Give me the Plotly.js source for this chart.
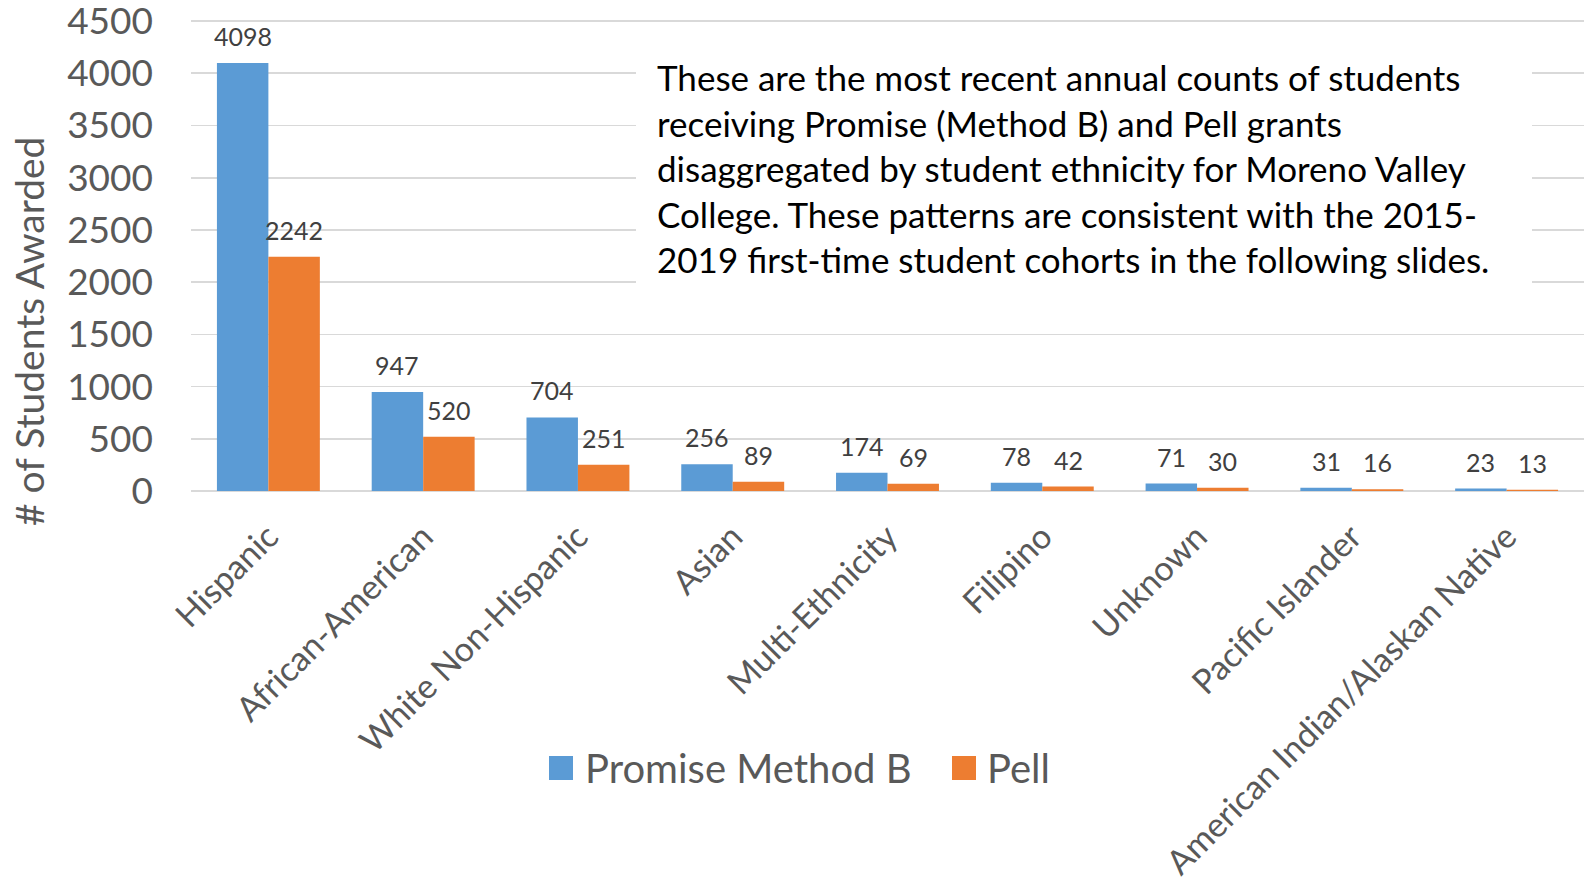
<!DOCTYPE html>
<html>
<head>
<meta charset="utf-8">
<script src="https://cdn.plot.ly/plotly-3.0.1.min.js"></script>
<style>
  html, body { margin: 0; padding: 0; background: #ffffff; }
  #chart { width: 1584px; height: 886px; }
</style>
</head>
<body>
<div id="chart"></div>
<script>
// Annual counts of students awarded, by ethnicity
const categories = [
  "Hispanic",
  "African-American",
  "White Non-Hispanic",
  "Asian",
  "Multi-Ethnicity",
  "Filipino",
  "Unknown",
  "Pacific Islander",
  "American Indian/Alaskan Native"
];
const promiseMethodB = [4098, 947, 704, 256, 174, 78, 71, 31, 23];
const pell = [2242, 520, 251, 89, 69, 42, 30, 16, 13];
const seriesNames = ["Promise Method B", "Pell"];
const yTicks = [0, 500, 1000, 1500, 2000, 2500, 3000, 3500, 4000, 4500];
const yTitle = "# of Students Awarded";

const noteLines = [
  "These are the most recent annual counts of students",
  "receiving Promise (Method B) and Pell grants",
  "disaggregated by student ethnicity for Moreno Valley",
  "College. These patterns are consistent with the 2015-",
  "2019 first-time student cohorts in the following slides."
];

const BLUE = "#5B9BD5";
const ORANGE = "#ED7D31";
const FONT = "Lato, 'Open Sans', sans-serif";

// plot-area geometry in pixels
const W = 1584, H = 886;
const L = 191, R = 0, T = 20, B = 395;
const plotW = W - L - R, plotH = H - T - B;
const px = x => (x - L) / plotW;          // pixel x -> paper x
const py = y => (H - B - y) / plotH;      // pixel y -> paper y

const bargap = 0.335;
const barPx = plotW / categories.length * (1 - bargap) / 2;

const traces = [
  { type: "bar", name: seriesNames[0], x: categories, y: promiseMethodB,
    marker: { color: BLUE }, showlegend: false, hoverinfo: "x+y" },
  { type: "bar", name: seriesNames[1], x: categories, y: pell,
    marker: { color: ORANGE }, showlegend: false, hoverinfo: "x+y" }
];

const annotations = [];
// value labels above each bar
categories.forEach((c, i) => {
  annotations.push({ x: c, y: promiseMethodB[i], xref: "x", yref: "y",
    text: String(promiseMethodB[i]), showarrow: false, xshift: -barPx / 2,
    yshift: 27, yanchor: "middle", font: { family: FONT, size: 25, color: "#404040" } });
  annotations.push({ x: c, y: pell[i], xref: "x", yref: "y",
    text: String(pell[i]), showarrow: false, xshift: barPx / 2,
    yshift: 27, yanchor: "middle", font: { family: FONT, size: 25, color: "#404040" } });
});

// y-axis title
annotations.push({
  xref: "paper", yref: "paper", x: px(29), y: py(332),
  xanchor: "center", yanchor: "middle", textangle: -90, showarrow: false,
  text: yTitle, font: { family: FONT, size: 39, color: "#595959" }
});

// explanatory note
annotations.push({
  xref: "paper", yref: "paper", x: px(655), y: py(168),
  xanchor: "left", yanchor: "middle", align: "left", showarrow: false,
  text: noteLines.join("<br>"),
  font: { family: FONT, size: 35, color: "#000000" }
});

// legend entries
annotations.push({ xref: "paper", yref: "paper", x: px(583), y: py(768),
  xanchor: "left", yanchor: "middle", showarrow: false, text: seriesNames[0],
  font: { family: FONT, size: 40, color: "#595959" } });
annotations.push({ xref: "paper", yref: "paper", x: px(985), y: py(768),
  xanchor: "left", yanchor: "middle", showarrow: false, text: seriesNames[1],
  font: { family: FONT, size: 40, color: "#595959" } });

const shapes = [
  // white panel behind the note
  { type: "rect", xref: "paper", yref: "paper", layer: "above",
    x0: px(636), x1: px(1532), y0: py(298), y1: py(45),
    fillcolor: "#ffffff", line: { width: 0 } },
  // legend swatches
  { type: "rect", xref: "paper", yref: "paper",
    x0: px(549), x1: px(573), y0: py(780), y1: py(756),
    fillcolor: BLUE, line: { width: 0 } },
  { type: "rect", xref: "paper", yref: "paper",
    x0: px(952), x1: px(976), y0: py(780), y1: py(756),
    fillcolor: ORANGE, line: { width: 0 } }
];

const layout = {
  width: W, height: H,
  margin: { l: L, r: R, t: T, b: B, pad: 0 },
  paper_bgcolor: "#ffffff", plot_bgcolor: "#ffffff",
  barmode: "group", bargap: bargap, bargroupgap: 0,
  showlegend: false,
  font: { family: FONT, color: "#595959" },
  xaxis: {
    type: "category", automargin: false,
    tickangle: -45, ticks: "", showgrid: false,
    showline: false, zeroline: false,
    ticklabelstandoff: 18,
    tickfont: { family: FONT, size: 34, color: "#595959" }
  },
  yaxis: {
    range: [0, 4510], tickvals: yTicks, automargin: false,
    showgrid: true, gridcolor: "#D9D9D9", gridwidth: 1.6,
    zeroline: true, zerolinecolor: "#D9D9D9", zerolinewidth: 1.6,
    showline: false, ticks: "",
    ticklabelstandoff: 37, ticklabeloverflow: "allow",
    tickfont: { family: FONT, size: 37, color: "#595959" }
  },
  annotations: annotations,
  shapes: shapes
};

Plotly.newPlot("chart", traces, layout, { displayModeBar: false, staticPlot: true });
</script>
</body>
</html>
